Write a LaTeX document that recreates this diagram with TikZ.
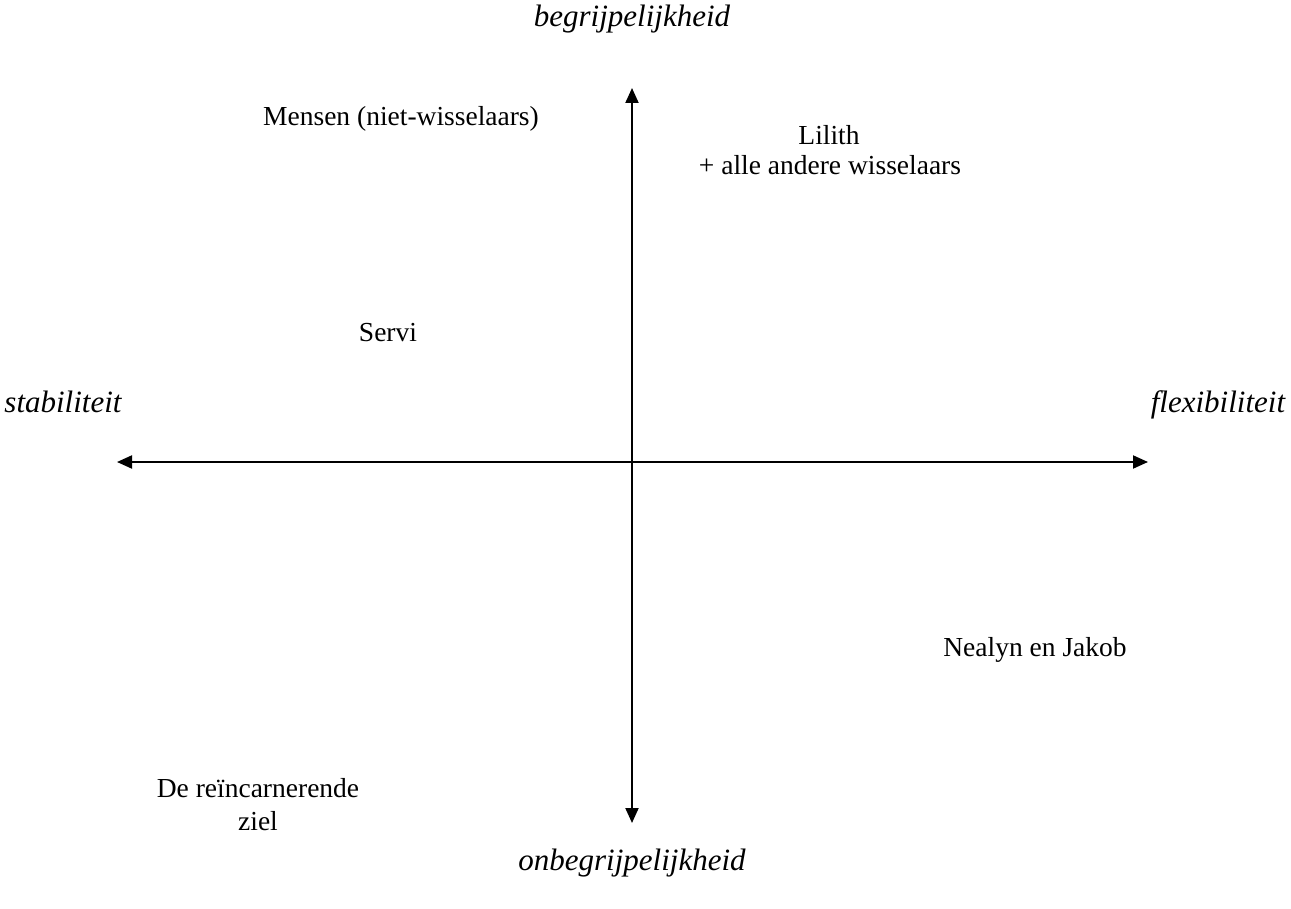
\documentclass[tikz,border=0pt]{standalone}
\usepackage{fontspec}
\setmainfont{Liberation Serif}
\usetikzlibrary{arrows.meta}
\tikzset{
  lbl/.style={font=\fontsize{27.5}{32}\selectfont, align=center, inner sep=0pt, anchor=base},
  axlbl/.style={font=\fontsize{31}{36}\selectfont\itshape, inner sep=0pt, anchor=base},
  axis/.style={line width=2pt, -{Triangle[length=15pt,width=13pt]}}
}
\begin{document}
\begin{tikzpicture}[x=1pt,y=-1pt]
\useasboundingbox (0,0) rectangle (1291,909);
\coordinate (o) at (632,462);
\coordinate (top) at (632,88);
\coordinate (bot) at (632,823);
\coordinate (left) at (117,462);
\coordinate (right) at (1148,462);
\draw[axis] (o) -- (top);
\draw[axis] (o) -- (bot);
\draw[axis] (o) -- (left);
\draw[axis] (o) -- (right);
\node[axlbl] (begr) at (632,27) {begrijpelijkheid};
\node[axlbl] (onbegr) at (632,870) {onbegrijpelijkheid};
\node[axlbl] (stab) at (63,413) {stabiliteit};
\node[axlbl] (flex) at (1218,413) {flexibiliteit};
\node[lbl] (mensen) at (401,126) {Mensen (niet-wisselaars)};
\node[lbl] (lilith) at (829,145) {Lilith};
\node[lbl] (andere) at (830,175) {+ alle andere wisselaars};
\node[lbl] (servi) at (388,342) {Servi};
\node[lbl] (nealyn) at (1035,656) {Nealyn en Jakob};
\node[lbl] (ziel1) at (258,797) {De reïncarnerende};
\node[lbl] (ziel2) at (258,830) {ziel};
\end{tikzpicture}
\end{document}
